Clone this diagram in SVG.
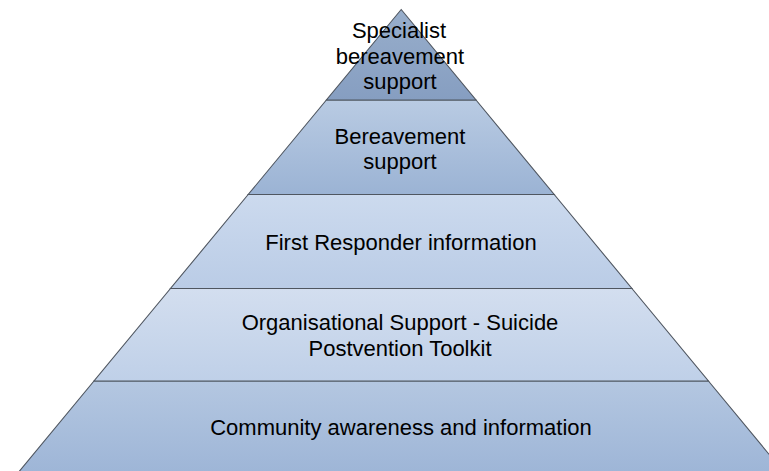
<svg xmlns="http://www.w3.org/2000/svg" width="769" height="471" viewBox="0 0 769 471">
<defs>
<linearGradient id="g1" x1="0" y1="0" x2="0" y2="1"><stop offset="0" stop-color="#98AECB"/><stop offset="1" stop-color="#869EC1"/></linearGradient>
<linearGradient id="g2" x1="0" y1="0" x2="0" y2="1"><stop offset="0" stop-color="#B9CBE3"/><stop offset="1" stop-color="#9BB3D4"/></linearGradient>
<linearGradient id="g3" x1="0" y1="0" x2="0" y2="1"><stop offset="0" stop-color="#CCDAEE"/><stop offset="1" stop-color="#BACCE6"/></linearGradient>
<linearGradient id="g4" x1="0" y1="0" x2="0" y2="1"><stop offset="0" stop-color="#D3DEEF"/><stop offset="1" stop-color="#BFD0E8"/></linearGradient>
<linearGradient id="g5" x1="0" y1="0" x2="0" y2="1"><stop offset="0" stop-color="#B4C7E1"/><stop offset="1" stop-color="#9CB4D6"/></linearGradient>
</defs>
<style>
.band{stroke:#4F5660;stroke-width:1.1;stroke-linejoin:miter}
.lbl{font-family:"Liberation Sans",Arial,sans-serif;font-size:22px;fill:#000;text-anchor:middle}
</style>
<rect width="769" height="471" fill="#FFFFFF"/>
<g id="community">
<polygon class="band" fill="url(#g5)" points="94,381 708.4,381 790.3,480 12.1,480"/>
<text class="lbl" x="401" y="435">Community awareness and information</text>
</g>
<g id="organisational">
<polygon class="band" fill="url(#g4)" points="170.5,288.5 631.9,288.5 708.4,381 94,381"/>
<text class="lbl" x="400" y="330">Organisational Support - Suicide</text>
<text class="lbl" x="400" y="356">Postvention Toolkit</text>
</g>
<g id="first-responder">
<polygon class="band" fill="url(#g3)" points="248.2,194.5 554.2,194.5 631.9,288.5 170.5,288.5"/>
<text class="lbl" x="401" y="250">First Responder information</text>
</g>
<g id="bereavement">
<polygon class="band" fill="url(#g2)" points="326.4,100 476,100 554.2,194.5 248.2,194.5"/>
<text class="lbl" x="400" y="144">Bereavement</text>
<text class="lbl" x="400" y="169">support</text>
</g>
<g id="specialist">
<polygon class="band" fill="url(#g1)" points="401.2,9.5 476,100 326.4,100"/>
<text class="lbl" x="399" y="38">Specialist</text>
<text class="lbl" x="400" y="63.5">bereavement</text>
<text class="lbl" x="400" y="89">support</text>
</g>
</svg>
